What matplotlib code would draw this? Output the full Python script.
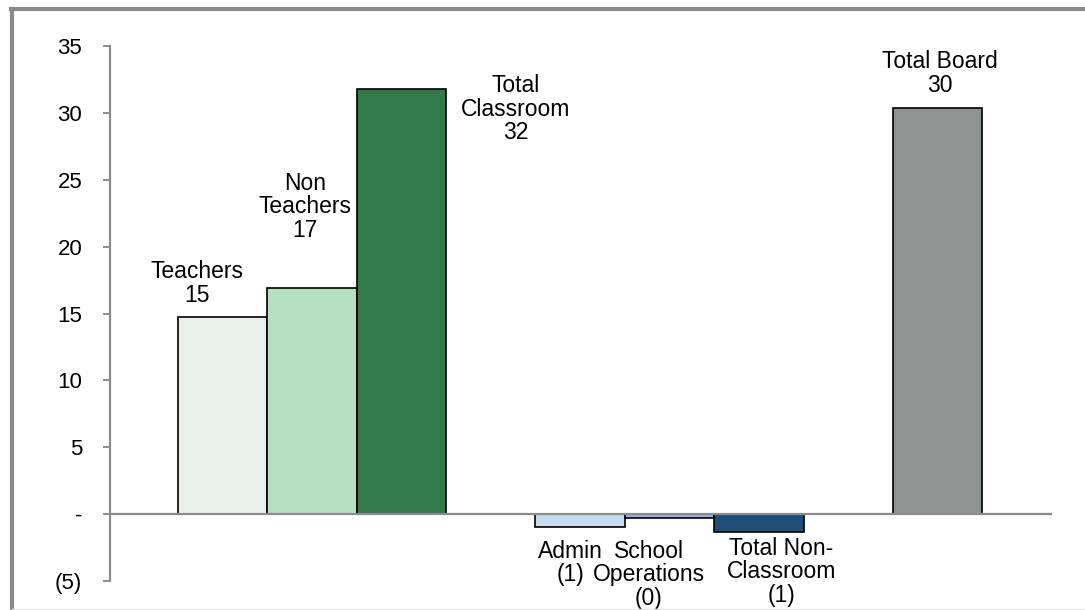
import matplotlib.pyplot as plt
from matplotlib.lines import Line2D
from matplotlib.ticker import FuncFormatter, MultipleLocator

plt.rcParams['font.family'] = ['Liberation Sans', 'DejaVu Sans']

# Data
categories = ['Teachers', 'Non\nTeachers', 'Total\nClassroom', 'Admin',
              'School\nOperations', 'Total Non-\nClassroom', 'Total Board']
values = [14.75, 16.9, 31.8, -0.95, -0.3, -1.3, 30.35]
value_labels = ['15', '17', '32', '(1)', '(0)', '(1)', '30']
slots = [0, 1, 2, 4, 5, 6, 8]  # empty slot between groups
colors = ['#e8f2ea', '#b5dfc0', '#337a48', '#c6dcf0', '#8fb5e0', '#1f4e79', '#8e9392']

# Label placement (x in slot units, y = top of label block)
label_x = [-0.29, 0.92, 3.28, 3.89, 4.77, 6.25, 8.03]
label_y = [19.0, 25.6, 32.9, -1.9, -1.9, -1.7, 34.7]

fig = plt.figure(figsize=(10.85, 6.10), dpi=100)
ax = fig.add_axes([0.1014, 0.0475, 0.8682, 0.8771])

ax.bar(slots, values, width=1.0, color=colors, edgecolor='black',
       linewidth=1.2, zorder=2)
ax.axhline(0, color='#8c8c8c', linewidth=1.6, zorder=3)

for cat, lab, x, y in zip(categories, value_labels, label_x, label_y):
    ax.text(x, y, f'{cat}\n{lab}', ha='center', va='top', fontsize=16.5,
            linespacing=1.03, color='black', clip_on=False)

ax.set_xlim(-1.26, 9.28)
ax.set_ylim(-5, 35)
ax.yaxis.set_major_locator(MultipleLocator(5))


def fmt(v, pos):
    v = int(round(v))
    if v == 0:
        return '-'
    if v < 0:
        return f'({-v})'
    return str(v)


ax.yaxis.set_major_formatter(FuncFormatter(fmt))
ax.tick_params(axis='y', length=5, width=1.4, color='#8c8c8c',
               labelsize=16, pad=15)
ax.set_xticks([])

for s in ['top', 'right', 'bottom']:
    ax.spines[s].set_visible(False)
ax.spines['left'].set_color('#8c8c8c')
ax.spines['left'].set_linewidth(1.6)

# outer frame (left and top edges visible)
W, H = 1085, 610
fig.add_artist(Line2D([12 / W, 12 / W], [0, 1 - 9 / H], color='#8a8a8a',
                      linewidth=3, transform=fig.transFigure))
fig.add_artist(Line2D([10.5 / W, 1], [1 - 9 / H, 1 - 9 / H], color='#8a8a8a',
                      linewidth=3, transform=fig.transFigure))
fig.add_artist(Line2D([12 / W, 1], [1.5 / H, 1.5 / H], color='#e6e6e6',
                      linewidth=1, transform=fig.transFigure))

fig.savefig('out.png', dpi=100)
